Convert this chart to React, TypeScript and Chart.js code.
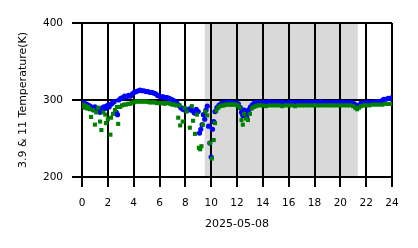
import { useEffect, useRef } from "react";
import { Chart, registerables } from "chart.js";

Chart.register(...registerables);

// 3.9 µm channel (blue circles)
const hours39 = [
  0.0, 0.1, 0.2, 0.3, 0.4, 0.5, 0.6, 0.7, 0.8, 0.9, 1.0, 1.1, 1.2, 1.3, 1.4, 1.5, 1.6, 1.7, 1.8, 1.9,
  2.0, 2.1, 2.2, 2.3, 2.4, 2.5, 2.65, 2.75, 2.85, 3.0, 3.15, 3.3, 3.45, 3.6, 3.75, 3.9, 4.05, 4.2, 4.35,
  4.5, 4.65, 4.8, 4.95, 5.1, 5.25, 5.4, 5.55, 5.7, 5.85, 6.0, 6.15, 6.3, 6.45, 6.6, 6.75, 6.9, 7.05,
  7.2, 7.35, 7.5, 7.65, 7.8, 7.95, 8.1, 8.25, 8.4, 8.55, 8.7, 8.85, 9.0, 9.1, 9.2, 9.3, 9.4, 9.5, 9.6,
  9.7, 9.8, 9.9, 10.0, 10.1, 10.2, 10.3, 10.45, 10.6, 10.75, 10.9, 11.05, 11.2, 11.35, 11.5, 11.65,
  11.8, 11.95, 12.1, 12.25, 12.35, 12.45, 12.55, 12.65, 12.75, 12.85, 12.95, 13.05, 13.2, 13.35, 13.5,
  13.75, 14.0, 14.25, 14.5, 14.75, 15.0, 15.25, 15.5, 15.75, 16.0, 16.25, 16.5, 16.75, 17.0, 17.25,
  17.5, 17.75, 18.0, 18.25, 18.5, 18.75, 19.0, 19.25, 19.4, 19.55, 19.75, 20.0, 20.25, 20.5, 20.75,
  21.0, 21.15, 21.3, 21.45, 21.6, 21.8, 22.0, 22.25, 22.5, 22.75, 23.0, 23.2, 23.35, 23.5, 23.7, 23.85,
  24.0,
];
const temp39 = [
  297, 296, 295, 295, 294, 293, 292, 291, 289, 287, 291, 289, 285, 287, 284, 288, 290, 291, 289, 292,
  293, 291, 294, 295, 297, 298, 284, 281, 300, 302, 303, 305, 304, 306, 305, 308, 310, 311, 312,
  313, 312, 312, 311, 311, 310, 310, 309, 308, 306, 305, 304, 304, 303, 303, 302, 301, 300,
  298, 296, 293, 290, 288, 287, 288, 287, 289, 286, 283, 288, 285, 257, 262, 268, 281, 275, 287,
  292, 266, 244, 226, 262, 272, 285, 290, 293, 295, 296, 296, 297, 297, 297, 296,
  296, 296, 295, 290, 284, 280, 287, 283, 278, 286, 288, 291, 294, 296, 297,
  297, 297, 297, 298, 297, 297, 297, 297, 296, 297, 297, 297, 297, 297, 297,
  297, 297, 297, 297, 298, 297, 297, 297, 295, 297, 297, 297, 297, 297, 297,
  296, 294, 290, 293, 296, 296, 297, 297, 297, 298, 298, 299, 301, 301, 302, 302,
  303,
];

// 11 µm channel (green squares)
const hours11 = [
  0.0, 0.1, 0.2, 0.3, 0.4, 0.5, 0.6, 0.7, 0.85, 1.0, 1.1, 1.25, 1.4, 1.5, 1.65, 1.8, 1.85, 2.0, 2.2,
  2.25, 2.4, 2.55, 2.7, 2.8, 2.95, 3.1, 3.25, 3.4, 3.55, 3.7, 3.85, 4.0, 4.15, 4.3, 4.45, 4.6, 4.75,
  4.9, 5.05, 5.2, 5.35, 5.5, 5.65, 5.8, 5.95, 6.1, 6.25, 6.4, 6.55, 6.7, 6.85, 7.0, 7.15, 7.3, 7.45,
  7.55, 7.6, 7.8, 7.95, 8.1, 8.35, 8.5, 8.6, 8.75, 8.9, 9.05, 9.15, 9.25, 9.35, 9.55, 9.7, 9.9, 10.05,
  10.2, 10.3, 10.4, 10.55, 10.7, 10.85, 11.0, 11.15, 11.3, 11.45, 11.6, 11.75, 11.9, 12.05, 12.2,
  12.35, 12.45, 12.55, 12.7, 12.85, 13.0, 13.15, 13.3, 13.45, 13.6, 13.8, 14.0, 14.25, 14.5, 14.75,
  15.0, 15.25, 15.5, 15.75, 16.0, 16.25, 16.5, 16.75, 17.0, 17.25, 17.5, 17.75, 18.0, 18.25, 18.5,
  18.75, 19.0, 19.25, 19.5, 19.75, 20.0, 20.25, 20.5, 20.75, 21.0, 21.15, 21.3, 21.45, 21.6, 21.8,
  22.0, 22.25, 22.5, 22.75, 23.0, 23.25, 23.5, 23.75, 24.0,
];
const temp11 = [
  292, 294, 290, 292, 289, 291, 288, 278, 287, 268, 284, 290, 272, 261, 284, 281, 270, 275, 255,
  277, 282, 287, 291, 269, 291, 293, 294, 294, 295, 295, 296, 297, 298, 298, 298, 298, 298,
  298, 298, 297, 297, 297, 297, 296, 296, 296, 296, 295, 296, 296, 295, 294, 294, 293, 277,
  293, 267, 272, 290, 285, 264, 292, 273, 256, 281, 238, 236, 240, 268, 285, 280, 244, 224,
  248, 270, 286, 290, 292, 293, 293, 294, 294, 294, 294, 294, 294, 293, 290,
  274, 268, 282, 276, 274, 282, 289, 291, 292, 293, 293, 293, 292, 293, 293,
  293, 293, 292, 293, 293, 293, 292, 293, 293, 293, 293, 293, 293, 293, 293,
  293, 293, 293, 293, 293, 293, 293, 293, 293, 292, 290, 288, 290, 292, 293,
  293, 293, 294, 294, 294, 294, 295, 295, 295,
];

const xTickValues = [0, 2, 4, 6, 8, 10, 12, 14, 16, 18, 20, 22, 24];
const yTickValues = [200, 300, 400];
const nightSpan = [9.5, 21.35];
const xTitle = "2025-05-08";
const yTitle = "3.9 & 11 Temperature(K)";

const shadePlugin = {
  id: "nightShade",
  beforeDraw(chart: any) {
    const { ctx, chartArea, scales } = chart;
    const x0 = scales.x.getPixelForValue(nightSpan[0]);
    const x1 = scales.x.getPixelForValue(nightSpan[1]);
    ctx.save();
    ctx.fillStyle = "#d9d9d9";
    ctx.fillRect(x0, chartArea.top, x1 - x0, chartArea.bottom - chartArea.top);
    ctx.restore();
  },
};

export default function App() {
  const ref = useRef<HTMLCanvasElement | null>(null);

  useEffect(() => {
    if (!ref.current) return;
    const tickFont = { family: "DejaVu Sans", size: 10.5 };
    const titleFont = { family: "DejaVu Sans", size: 11 };
    const chart = new Chart(ref.current, {
      type: "scatter",
      data: {
        datasets: [
          {
            label: "11",
            data: hours11.map((h, i) => ({ x: h, y: temp11[i] })),
            backgroundColor: "#008000",
            borderWidth: 0,
            pointStyle: "rect",
            pointRadius: 2.9,
            showLine: false,
          },
          {
            label: "3.9",
            data: hours39.map((h, i) => ({ x: h, y: temp39[i] })),
            backgroundColor: "#0000ff",
            borderWidth: 0,
            pointStyle: "circle",
            pointRadius: 2.6,
            showLine: false,
          },
        ],
      },
      options: {
        responsive: false,
        animation: false,
        events: [],
        layout: { padding: { top: 23, right: 26, left: 0, bottom: 0 } },
        plugins: { legend: { display: false }, tooltip: { enabled: false } },
        scales: {
          x: {
            type: "linear",
            min: 0,
            max: 24,
            afterBuildTicks: (s: any) => {
              s.ticks = xTickValues.map((v) => ({ value: v }));
            },
            afterFit: (s: any) => {
              s.height = 71;
            },
            grid: { color: "#000", lineWidth: 2, tickLength: 10, drawTicks: true },
            border: { display: false },
            ticks: { color: "#000", font: tickFont, padding: 10, maxRotation: 0, autoSkip: false },
            title: { display: true, text: xTitle, color: "#000", font: titleFont, padding: { top: 0, bottom: 17 } },
          },
          y: {
            type: "linear",
            min: 200,
            max: 400,
            afterBuildTicks: (s: any) => {
              s.ticks = yTickValues.map((v) => ({ value: v }));
            },
            afterFit: (s: any) => {
              s.width = 82;
            },
            grid: { color: "#000", lineWidth: 2, tickLength: 10, drawTicks: true },
            border: { display: false },
            ticks: { color: "#000", font: tickFont, padding: 9 },
            title: { display: true, text: yTitle, color: "#000", font: titleFont, padding: { top: 17, bottom: 0 } },
          },
        },
      },
      plugins: [shadePlugin],
    });
    return () => chart.destroy();
  }, []);

  return (
    <div style={{ position: "absolute", left: 0, top: 0, width: 418, height: 248, background: "#fff" }}>
      <canvas ref={ref} width={418} height={248} style={{ width: 418, height: 248, display: "block" }} />
    </div>
  );
}
